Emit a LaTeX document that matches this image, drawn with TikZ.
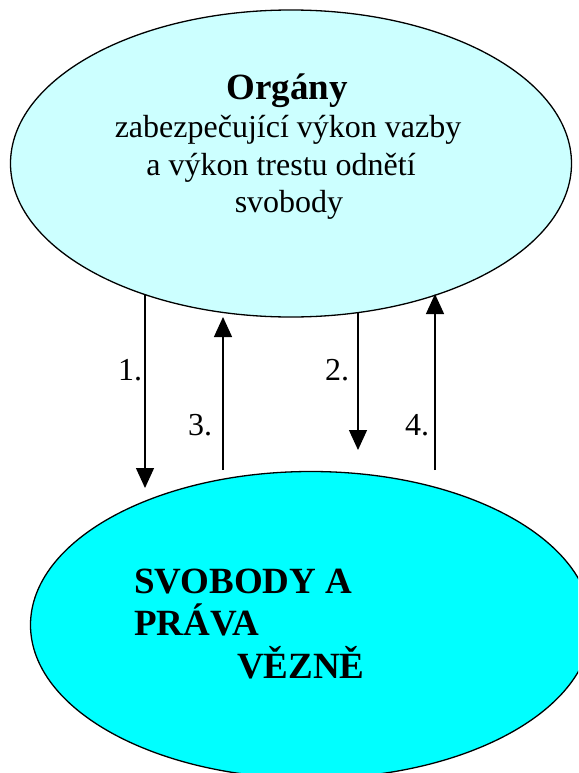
\documentclass[tikz,border=0pt]{standalone}
\usepackage{fontspec}
\setmainfont{Liberation Serif}
\usetikzlibrary{shapes.geometric,arrows.meta}

\definecolor{paleaqua}{RGB}{204,255,255}
\definecolor{aqua}{RGB}{0,255,255}

\tikzset{
  organ/.style={ellipse, draw=black, line width=1.3pt, fill=paleaqua, inner sep=0pt,
                minimum width=561pt, minimum height=307pt},
  prisoner/.style={ellipse, draw=black, line width=1.3pt, fill=aqua, inner sep=0pt,
                minimum width=561pt, minimum height=307pt},
  plain/.style={inner sep=0pt, font=\fontsize{32}{38}\selectfont},
  heavy/.style={inner sep=0pt, font=\fontsize{37}{42}\selectfont\bfseries},
  flow/.style={line width=1.3pt, -{Triangle[width=18pt,length=20pt]}},
}

\begin{document}
\begin{tikzpicture}[x=1pt, y=-1pt]
  \clip (0,0) rectangle (578,773);

  % the two ellipses
  \node[organ] (org) at (291,163.5) {};
  \node[prisoner] (vez) at (311,625) {};

  % text of the upper ellipse
  \node[heavy, anchor=base] (t0) at (287,100) {Orgány};
  \node[plain, anchor=base] (t1) at (288,137) {zabezpečující výkon vazby};
  \node[plain, anchor=base] (t2) at (281,175) {a výkon trestu odnětí};
  \node[plain, anchor=base] (t3) at (289,212) {svobody};

  % text of the lower ellipse
  \node[heavy, anchor=base west] (b1) at (134,593) {SVOBODY A};
  \node[heavy, anchor=base west] (b2) at (134,635) {PRÁVA};
  \node[heavy, anchor=base west] (b3) at (237,678) {VĚZNĚ};

  % arrow end points
  \coordinate (a1s) at (145,294);
  \coordinate (a1e) at (145,488);
  \coordinate (a2s) at (358,313);
  \coordinate (a2e) at (358,450);
  \coordinate (a3s) at (223,470);
  \coordinate (a3e) at (223,317);
  \coordinate (a4s) at (435,470);
  \coordinate (a4e) at (435,294);

  \draw[flow] (a1s) -- (a1e);
  \draw[flow] (a2s) -- (a2e);
  \draw[flow] (a3s) -- (a3e);
  \draw[flow] (a4s) -- (a4e);

  % step numbers
  \node[plain, anchor=base west] (n1) at (118,380) {1.};
  \node[plain, anchor=base west] (n2) at (325,380) {2.};
  \node[plain, anchor=base west] (n3) at (188,435) {3.};
  \node[plain, anchor=base west] (n4) at (405,435) {4.};
\end{tikzpicture}
\end{document}
